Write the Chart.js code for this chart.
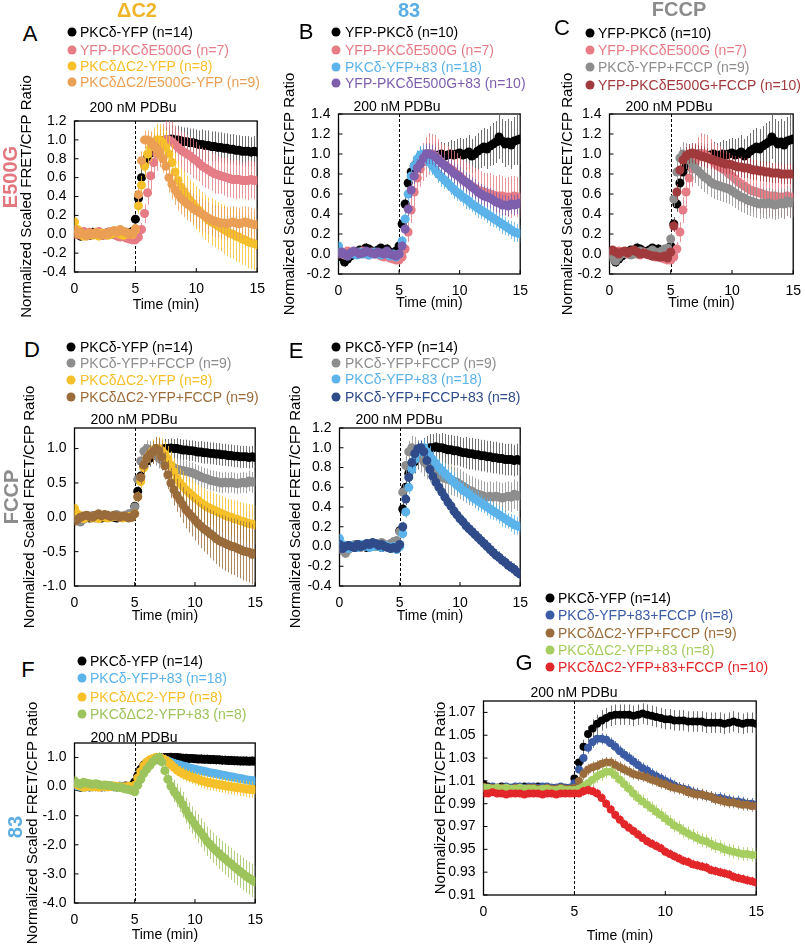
<!DOCTYPE html>
<html>
<head>
<meta charset="utf-8">
<script src="https://cdn.jsdelivr.net/npm/chart.js@4"></script>
<style>
  html, body { margin: 0; padding: 0; background: #fff; }
  #page { position: relative; width: 805px; height: 945px; overflow: hidden; font-family: "Liberation Sans", Arial, sans-serif; }
  canvas { position: absolute; }
  .t { position: absolute; white-space: nowrap; line-height: 1; }
  .dot { position: absolute; width: 9px; height: 9px; border-radius: 50%; transform: translate(-50%, -50%); }
</style>
</head>
<body>
<div id="page"></div>
<script>
// ---------------------
// Data: time (min) and series values
// ---------------------
const time = [0,0.25,0.5,0.75,1,1.25,1.5,1.75,2,2.25,2.5,2.75,3,3.25,3.5,3.75,4,4.25,4.5,4.75,
  5,5.25,5.5,5.75,6,6.25,6.5,6.75,7,7.25,7.5,7.75,8,8.25,8.5,8.75,9,9.25,9.5,9.75,
  10,10.25,10.5,10.75,11,11.25,11.5,11.75,12,12.25,12.5,12.75,13,13.25,13.5,13.75,14,14.25,14.5,14.75,15];
const xTicks = [0, 5, 10, 15];
const stimTime = 5;

// PKCδ-YFP (n=14)
const pkcdYfp = [0.02,0.00,-0.02,0.01,0.00,-0.01,0.02,0.00,0.01,-0.01,0.00,0.02,0.01,0.00,-0.01,0.01,0.00,0.02,0.00,0.03,
  0.16,0.38,0.60,0.74,0.82,0.86,0.90,0.94,0.97,0.99,1.00,1.00,1.01,1.00,1.00,0.99,0.98,0.98,0.97,0.97,
  0.96,0.95,0.95,0.94,0.94,0.93,0.93,0.92,0.92,0.91,0.91,0.90,0.90,0.89,0.89,0.88,0.88,0.88,0.87,0.88,0.87];
const pkcdYfpErr = [0.04,0.03,0.03,0.04,0.03,0.03,0.04,0.03,0.03,0.04,0.03,0.03,0.04,0.03,0.03,0.04,0.03,0.03,0.04,0.04,
  0.05,0.07,0.09,0.10,0.11,0.12,0.12,0.13,0.13,0.13,0.14,0.14,0.14,0.14,0.15,0.15,0.15,0.15,0.15,0.15,
  0.15,0.15,0.16,0.16,0.16,0.16,0.16,0.16,0.16,0.16,0.16,0.16,0.16,0.16,0.16,0.16,0.16,0.16,0.16,0.16,0.16];

// YFP-PKCδE500G (n=7)
const e500g = [0.00,0.02,-0.01,0.03,0.01,0.02,0.00,0.01,0.03,0.00,-0.01,0.02,0.00,0.01,-0.02,-0.03,-0.02,-0.04,-0.05,-0.06,
  -0.06,-0.03,0.05,0.22,0.44,0.62,0.76,0.85,0.92,0.97,1.00,1.00,0.98,0.95,0.92,0.89,0.87,0.85,0.83,0.80,
  0.78,0.75,0.72,0.70,0.68,0.66,0.64,0.63,0.62,0.61,0.60,0.59,0.58,0.58,0.58,0.57,0.57,0.57,0.58,0.57,0.57];
const e500gErr = [0.03,0.04,0.03,0.03,0.04,0.03,0.03,0.04,0.03,0.03,0.04,0.03,0.03,0.04,0.03,0.03,0.04,0.03,0.04,0.04,
  0.04,0.05,0.07,0.10,0.13,0.15,0.17,0.18,0.19,0.20,0.21,0.20,0.21,0.20,0.19,0.20,0.21,0.20,0.20,0.21,
  0.20,0.19,0.20,0.21,0.20,0.20,0.21,0.20,0.19,0.20,0.21,0.20,0.20,0.21,0.20,0.19,0.20,0.21,0.20,0.20,0.21];

// PKCδΔC2-YFP (n=8)
const dc2 = [0.13,0.05,0.02,-0.02,0.00,0.01,-0.01,0.00,-0.02,0.01,0.00,-0.01,0.00,0.02,0.01,0.00,-0.01,0.00,0.01,0.00,
  0.05,0.30,0.52,0.72,0.85,0.92,0.97,1.00,1.00,0.97,0.92,0.85,0.76,0.66,0.57,0.50,0.45,0.40,0.36,0.32,
  0.28,0.25,0.21,0.18,0.15,0.13,0.11,0.09,0.07,0.05,0.03,0.01,0.00,-0.02,-0.03,-0.05,-0.06,-0.08,-0.09,-0.10,-0.11];
const dc2Err = [0.05,0.04,0.04,0.03,0.04,0.04,0.03,0.04,0.04,0.03,0.04,0.04,0.03,0.04,0.04,0.03,0.04,0.04,0.03,0.04,
  0.05,0.08,0.10,0.12,0.14,0.15,0.16,0.17,0.17,0.18,0.18,0.19,0.20,0.20,0.21,0.21,0.22,0.22,0.22,0.23,
  0.23,0.23,0.24,0.24,0.24,0.25,0.25,0.25,0.25,0.26,0.26,0.26,0.26,0.27,0.27,0.27,0.27,0.28,0.28,0.28,0.28];

// PKCδΔC2/E500G-YFP (n=9)
const dc2E500g = [0.05,0.00,0.02,0.00,-0.02,0.01,0.00,0.02,0.00,-0.01,0.01,0.00,0.03,0.04,0.02,0.05,0.03,0.02,0.00,0.01,
  0.06,0.42,0.78,1.00,1.00,0.98,0.94,0.90,0.85,0.80,0.72,0.60,0.53,0.47,0.42,0.38,0.35,0.32,0.30,0.27,
  0.25,0.23,0.21,0.19,0.17,0.15,0.14,0.13,0.12,0.12,0.11,0.12,0.13,0.12,0.11,0.12,0.13,0.12,0.11,0.10,0.10];
const dc2E500gErr = [0.04,0.03,0.04,0.04,0.03,0.04,0.04,0.03,0.04,0.04,0.03,0.04,0.04,0.03,0.04,0.04,0.03,0.04,0.04,0.04,
  0.05,0.08,0.10,0.10,0.10,0.11,0.12,0.13,0.14,0.15,0.15,0.16,0.16,0.16,0.17,0.17,0.17,0.17,0.17,0.17,
  0.17,0.17,0.17,0.17,0.17,0.17,0.17,0.17,0.17,0.17,0.17,0.17,0.17,0.17,0.17,0.17,0.17,0.17,0.17,0.17,0.17];

// YFP-PKCδ (n=10)
const yfpPkcd = [0.02,-0.03,-0.08,-0.05,-0.02,0.00,0.02,0.04,0.03,0.06,0.05,0.03,0.02,0.04,0.06,0.03,0.05,0.02,0.00,0.03,
  0.08,0.30,0.50,0.71,0.82,0.88,0.93,0.97,0.99,1.00,1.00,0.99,0.98,0.99,1.00,0.98,0.99,1.00,0.99,1.00,
  1.01,0.99,1.00,1.02,0.98,1.00,1.03,1.05,1.07,1.05,1.08,1.10,1.12,1.17,1.13,1.10,1.12,1.09,1.13,1.14,1.15];
const yfpPkcdErr = [0.04,0.03,0.05,0.04,0.03,0.04,0.04,0.03,0.04,0.05,0.04,0.03,0.04,0.04,0.03,0.04,0.05,0.04,0.03,0.04,
  0.05,0.07,0.08,0.08,0.09,0.09,0.10,0.10,0.10,0.11,0.11,0.11,0.12,0.12,0.12,0.13,0.13,0.14,0.14,0.15,
  0.15,0.16,0.16,0.17,0.17,0.18,0.18,0.19,0.19,0.20,0.20,0.21,0.21,0.22,0.22,0.23,0.23,0.24,0.24,0.25,0.25];

// PKCδ-YFP+83 (n=18)
const plus83 = [0.08,0.02,0.00,-0.02,0.01,0.00,-0.01,0.02,0.00,0.01,-0.01,0.00,0.02,0.00,-0.01,0.01,0.00,-0.02,0.00,-0.03,
  0.00,0.13,0.35,0.60,0.78,0.88,0.95,0.99,1.00,0.96,0.92,0.88,0.84,0.80,0.77,0.74,0.71,0.68,0.65,0.62,
  0.60,0.57,0.55,0.53,0.50,0.48,0.46,0.44,0.42,0.40,0.38,0.36,0.34,0.32,0.30,0.28,0.26,0.24,0.22,0.21,0.20];
const plus83Err = [0.03,0.03,0.02,0.03,0.03,0.02,0.03,0.03,0.02,0.03,0.03,0.02,0.03,0.03,0.02,0.03,0.03,0.02,0.03,0.03,
  0.04,0.05,0.06,0.07,0.08,0.08,0.09,0.09,0.09,0.09,0.10,0.09,0.08,0.09,0.10,0.09,0.08,0.09,0.10,0.09,
  0.08,0.09,0.10,0.09,0.08,0.09,0.10,0.09,0.08,0.09,0.10,0.09,0.08,0.09,0.10,0.09,0.08,0.09,0.10,0.09,0.09];

// YFP-PKCδE500G+83 (n=10)
const e500g83 = [0.00,0.02,0.00,-0.02,0.01,0.03,0.02,0.00,0.01,0.03,0.02,0.01,0.00,0.02,0.01,0.00,0.03,0.00,-0.01,-0.02,
  0.00,0.08,0.25,0.45,0.64,0.78,0.86,0.90,0.96,1.00,1.00,0.99,0.97,0.94,0.91,0.89,0.86,0.84,0.81,0.79,
  0.77,0.74,0.72,0.70,0.67,0.65,0.62,0.60,0.58,0.57,0.56,0.54,0.52,0.51,0.49,0.49,0.48,0.50,0.49,0.50,0.51];
const e500g83Err = [0.03,0.03,0.02,0.03,0.03,0.02,0.03,0.03,0.02,0.03,0.03,0.02,0.03,0.03,0.02,0.03,0.03,0.02,0.03,0.03,
  0.04,0.05,0.06,0.07,0.08,0.08,0.09,0.09,0.09,0.10,0.10,0.10,0.10,0.10,0.10,0.10,0.10,0.10,0.10,0.10,
  0.10,0.10,0.10,0.10,0.10,0.10,0.10,0.10,0.10,0.10,0.10,0.10,0.10,0.10,0.10,0.10,0.10,0.10,0.10,0.10,0.10];

// PKCδ-YFP+FCCP (n=9)
const fccp = [0.00,-0.04,-0.07,-0.03,0.00,0.02,0.01,-0.01,0.00,0.02,0.03,0.01,0.00,0.02,0.04,0.02,0.00,0.03,0.05,0.06,
  0.15,0.55,0.82,0.96,1.00,0.98,0.94,0.90,0.86,0.83,0.80,0.77,0.75,0.72,0.70,0.69,0.68,0.67,0.66,0.65,
  0.63,0.61,0.59,0.57,0.56,0.54,0.53,0.52,0.51,0.50,0.51,0.50,0.51,0.50,0.49,0.50,0.51,0.50,0.53,0.51,0.52];
const fccpErr = [0.04,0.04,0.03,0.04,0.04,0.03,0.04,0.04,0.03,0.04,0.04,0.03,0.04,0.04,0.03,0.04,0.04,0.03,0.04,0.04,
  0.06,0.08,0.10,0.11,0.12,0.13,0.14,0.15,0.15,0.15,0.15,0.15,0.15,0.15,0.15,0.15,0.15,0.15,0.15,0.15,
  0.15,0.15,0.15,0.15,0.15,0.15,0.15,0.15,0.15,0.15,0.15,0.15,0.15,0.15,0.15,0.15,0.15,0.15,0.15,0.15,0.15];

// YFP-PKCδE500G+FCCP (n=10)
const e500gFccp = [0.03,0.04,0.02,0.00,0.02,0.03,0.01,0.03,0.04,0.02,0.00,0.01,0.00,-0.01,-0.02,-0.02,-0.03,-0.03,-0.02,-0.04,
  0.02,0.28,0.62,0.84,0.94,0.98,1.00,1.01,1.00,0.99,0.98,0.97,0.96,0.95,0.94,0.93,0.92,0.91,0.90,0.90,
  0.89,0.88,0.87,0.87,0.86,0.86,0.85,0.84,0.84,0.83,0.83,0.82,0.82,0.81,0.81,0.81,0.80,0.80,0.80,0.80,0.80];
const e500gFccpErr = [0.03,0.03,0.02,0.03,0.03,0.02,0.03,0.03,0.02,0.03,0.03,0.02,0.03,0.03,0.02,0.03,0.03,0.02,0.03,0.03,
  0.04,0.06,0.08,0.08,0.09,0.09,0.10,0.10,0.10,0.10,0.10,0.10,0.10,0.10,0.10,0.10,0.10,0.10,0.10,0.10,
  0.10,0.10,0.10,0.10,0.10,0.10,0.10,0.10,0.10,0.10,0.10,0.10,0.10,0.10,0.10,0.10,0.10,0.10,0.10,0.10,0.10];

// PKCδΔC2-YFP+FCCP (n=9)
const dc2Fccp = [-0.06,-0.03,0.00,0.02,0.03,0.01,0.00,0.03,0.05,0.02,0.04,0.03,0.01,0.03,0.02,0.00,0.02,0.01,-0.01,0.00,
  0.05,0.30,0.58,0.76,0.86,0.91,0.95,1.00,0.97,0.88,0.75,0.62,0.50,0.40,0.32,0.25,0.18,0.11,0.06,0.01,
  -0.04,-0.09,-0.13,-0.17,-0.20,-0.24,-0.27,-0.31,-0.34,-0.36,-0.38,-0.40,-0.42,-0.43,-0.45,-0.47,-0.49,-0.50,-0.51,-0.54,-0.52];
const dc2FccpErr = [0.05,0.04,0.05,0.05,0.04,0.05,0.05,0.04,0.05,0.05,0.04,0.05,0.05,0.04,0.05,0.05,0.04,0.05,0.05,0.05,
  0.06,0.08,0.10,0.12,0.14,0.15,0.16,0.17,0.18,0.19,0.20,0.21,0.22,0.23,0.24,0.25,0.26,0.27,0.28,0.29,
  0.30,0.31,0.32,0.33,0.34,0.35,0.36,0.37,0.38,0.39,0.40,0.40,0.41,0.41,0.42,0.42,0.43,0.43,0.44,0.44,0.45];

// PKCδ-YFP+FCCP+83 (n=8)
const fccp83 = [0.02,-0.02,0.00,0.01,0.00,-0.01,0.02,0.00,0.01,0.03,0.02,0.04,0.03,0.01,0.02,0.00,-0.01,-0.02,-0.01,-0.02,
  0.02,0.20,0.48,0.70,0.85,0.94,0.99,1.00,0.96,0.87,0.78,0.71,0.65,0.60,0.55,0.50,0.45,0.41,0.36,0.32,
  0.28,0.25,0.21,0.18,0.15,0.12,0.09,0.06,0.03,0.00,-0.03,-0.06,-0.09,-0.11,-0.14,-0.16,-0.19,-0.21,-0.23,-0.26,-0.28];
const fccp83Err = [0.03,0.03,0.02,0.03,0.03,0.02,0.03,0.03,0.02,0.03,0.03,0.02,0.03,0.03,0.02,0.03,0.03,0.02,0.03,0.03,
  0.04,0.05,0.06,0.06,0.06,0.07,0.07,0.07,0.07,0.06,0.06,0.06,0.06,0.06,0.06,0.06,0.06,0.06,0.06,0.06,
  0.06,0.06,0.06,0.06,0.06,0.06,0.06,0.06,0.06,0.06,0.06,0.06,0.06,0.06,0.06,0.06,0.06,0.06,0.06,0.06,0.06];

// PKCδΔC2-YFP+83 (n=8)
const dc2Plus83 = [0.20,0.12,0.08,0.15,0.12,0.10,0.08,0.10,0.07,0.05,0.06,0.04,0.03,0.00,-0.02,-0.03,-0.05,-0.08,-0.10,-0.13,
  -0.18,0.05,0.25,0.45,0.60,0.72,0.85,0.95,1.00,0.85,0.55,0.25,0.02,-0.15,-0.30,-0.45,-0.62,-0.82,-1.00,-1.15,
  -1.30,-1.45,-1.58,-1.72,-1.88,-1.98,-2.10,-2.20,-2.30,-2.40,-2.48,-2.58,-2.65,-2.75,-2.83,-2.92,-3.00,-3.08,-3.15,-3.22,-3.28];
const dc2Plus83Err = [0.05,0.05,0.04,0.05,0.05,0.04,0.05,0.05,0.04,0.05,0.05,0.04,0.05,0.05,0.04,0.05,0.05,0.04,0.05,0.05,
  0.08,0.10,0.12,0.14,0.15,0.16,0.17,0.18,0.18,0.22,0.28,0.32,0.35,0.38,0.40,0.42,0.44,0.45,0.46,0.47,
  0.48,0.49,0.50,0.50,0.51,0.51,0.52,0.52,0.53,0.53,0.54,0.54,0.55,0.55,0.55,0.56,0.56,0.56,0.57,0.57,0.57];

// Panel G: unscaled FRET/CFP ratio
const gYfp = [1.007,1.005,1.004,1.004,1.005,1.004,1.004,1.003,1.004,1.005,1.004,1.004,1.005,1.004,1.003,1.004,1.004,1.003,1.004,1.004,
  1.012,1.026,1.040,1.051,1.056,1.060,1.063,1.065,1.067,1.068,1.068,1.068,1.068,1.067,1.068,1.069,1.068,1.067,1.066,1.065,
  1.064,1.064,1.063,1.063,1.063,1.062,1.062,1.062,1.062,1.061,1.061,1.061,1.061,1.060,1.061,1.062,1.061,1.060,1.061,1.061,1.060];
const gYfpErr = [0.002,0.002,0.002,0.002,0.002,0.002,0.002,0.002,0.002,0.002,0.002,0.002,0.002,0.002,0.002,0.002,0.002,0.002,0.002,0.002,
  0.004,0.005,0.006,0.007,0.008,0.008,0.009,0.009,0.009,0.009,0.009,0.009,0.009,0.009,0.009,0.009,0.009,0.009,0.009,0.009,
  0.009,0.009,0.009,0.009,0.009,0.009,0.009,0.009,0.009,0.009,0.009,0.009,0.009,0.009,0.009,0.009,0.009,0.009,0.009,0.009,0.009];
const g83Fccp = [1.004,1.004,1.005,1.004,1.004,1.005,1.004,1.005,1.005,1.004,1.005,1.005,1.004,1.005,1.005,1.004,1.004,1.005,1.004,1.004,
  1.008,1.020,1.030,1.039,1.044,1.047,1.047,1.046,1.043,1.040,1.036,1.033,1.030,1.027,1.024,1.021,1.019,1.016,1.014,1.012,
  1.010,1.008,1.006,1.004,1.003,1.002,1.000,0.999,0.998,0.997,0.996,0.995,0.995,0.994,0.993,0.992,0.992,0.991,0.990,0.990,0.989];
const g83FccpErr = [0.002,0.002,0.002,0.002,0.002,0.002,0.002,0.002,0.002,0.002,0.002,0.002,0.002,0.002,0.002,0.002,0.002,0.002,0.002,0.002,
  0.003,0.004,0.005,0.005,0.005,0.005,0.005,0.005,0.005,0.005,0.005,0.005,0.005,0.005,0.005,0.005,0.005,0.005,0.005,0.005,
  0.005,0.005,0.005,0.005,0.005,0.005,0.005,0.005,0.005,0.005,0.005,0.005,0.005,0.005,0.005,0.005,0.005,0.005,0.005,0.005,0.005];
const gDc2Fccp = [1.005,1.004,1.004,1.003,1.004,1.004,1.003,1.004,1.004,1.003,1.004,1.004,1.003,1.003,1.004,1.003,1.003,1.004,1.003,1.003,
  1.004,1.010,1.016,1.020,1.022,1.023,1.025,1.026,1.026,1.024,1.022,1.020,1.018,1.016,1.015,1.014,1.013,1.011,1.010,1.008,
  1.007,1.005,1.004,1.003,1.002,1.000,0.999,0.998,0.998,0.997,0.996,0.994,0.993,0.992,0.991,0.991,0.990,0.989,0.989,0.988,0.988];
const gDc2FccpErr = [0.002,0.002,0.002,0.002,0.002,0.002,0.002,0.002,0.002,0.002,0.002,0.002,0.002,0.002,0.002,0.002,0.002,0.002,0.002,0.002,
  0.003,0.004,0.005,0.005,0.005,0.005,0.005,0.005,0.005,0.005,0.005,0.005,0.005,0.005,0.005,0.005,0.005,0.005,0.005,0.005,
  0.005,0.005,0.005,0.005,0.005,0.005,0.005,0.005,0.005,0.005,0.005,0.005,0.005,0.005,0.005,0.005,0.005,0.005,0.005,0.005,0.005];
const gDc2Plus83 = [1.004,1.004,1.003,1.004,1.003,1.004,1.003,1.003,1.004,1.003,1.003,1.003,1.002,1.003,1.003,1.002,1.002,1.003,1.002,1.002,
  1.002,1.003,1.005,1.008,1.011,1.014,1.016,1.018,1.018,1.015,1.011,1.007,1.003,0.999,0.995,0.992,0.989,0.986,0.983,0.980,
  0.977,0.974,0.971,0.969,0.966,0.964,0.962,0.960,0.958,0.957,0.955,0.953,0.952,0.950,0.949,0.948,0.947,0.946,0.946,0.945,0.945];
const gDc2Plus83Err = [0.002,0.002,0.002,0.002,0.002,0.002,0.002,0.002,0.002,0.002,0.002,0.002,0.002,0.002,0.002,0.002,0.002,0.002,0.002,0.002,
  0.003,0.004,0.005,0.005,0.006,0.006,0.006,0.006,0.006,0.006,0.006,0.006,0.006,0.006,0.006,0.006,0.006,0.006,0.006,0.006,
  0.006,0.006,0.006,0.006,0.006,0.006,0.006,0.006,0.006,0.006,0.006,0.006,0.006,0.006,0.006,0.006,0.006,0.006,0.006,0.006,0.006];
const gDc283Fccp = [0.999,0.999,1.000,0.999,0.999,0.998,0.999,0.999,0.999,0.998,0.999,0.999,0.999,0.998,0.999,0.999,0.998,0.999,0.999,0.999,
  0.999,0.999,1.001,1.002,1.001,0.999,0.995,0.990,0.985,0.980,0.976,0.972,0.969,0.966,0.963,0.960,0.957,0.955,0.953,0.951,
  0.948,0.946,0.944,0.942,0.940,0.939,0.937,0.936,0.935,0.934,0.932,0.931,0.930,0.929,0.928,0.926,0.925,0.924,0.923,0.922,0.921];
const gDc283FccpErr = [0.002,0.002,0.002,0.002,0.002,0.002,0.002,0.002,0.002,0.002,0.002,0.002,0.002,0.002,0.002,0.002,0.002,0.002,0.002,0.002,
  0.003,0.003,0.004,0.004,0.004,0.004,0.004,0.004,0.004,0.004,0.004,0.004,0.004,0.004,0.004,0.004,0.004,0.004,0.004,0.004,
  0.004,0.004,0.004,0.004,0.004,0.004,0.004,0.004,0.004,0.004,0.004,0.004,0.004,0.004,0.004,0.004,0.004,0.004,0.004,0.004,0.004];

// tick labels
const yTicksA = [-0.4,-0.2,0,0.2,0.4,0.6,0.8,1.0,1.2];
const yTicksB = [-0.2,0,0.2,0.4,0.6,0.8,1.0,1.2,1.4];
const yTicksD = [-1.0,-0.5,0,0.5,1.0];
const yTicksF = [-4,-3,-2,-1,0,1];
const yTicksG = [0.91,0.93,0.95,0.97,0.99,1.01,1.03,1.05,1.07];

// ---------------------
// Styles
// ---------------------
const FONT = '"Liberation Sans", Arial, sans-serif';
Chart.defaults.font.family = FONT;
Chart.defaults.color = '#000';

const C = {
  black: '#000000', pink: '#e57c86', gold: '#f6c02a', orange: '#eb9f55', lblue: '#5bb3ea',
  purple: '#7d5fae', gray: '#8d8d8d', dred: '#a13a3d', brown: '#9a6b3b', dblue: '#2f4b8a',
  green: '#9dc35c', gblue: '#3b5ba5', ggreen: '#a6cd5f', gred: '#e2262a'
};

const S = {
  pkcdYfp:   { label: 'PKCδ-YFP (n=14)', y: pkcdYfp, err: pkcdYfpErr, color: C.black },
  e500g:     { label: 'YFP-PKCδE500G (n=7)', y: e500g, err: e500gErr, color: C.pink },
  dc2:       { label: 'PKCδΔC2-YFP (n=8)', y: dc2, err: dc2Err, color: C.gold },
  dc2E500g:  { label: 'PKCδΔC2/E500G-YFP (n=9)', y: dc2E500g, err: dc2E500gErr, color: C.orange },
  yfpPkcd:   { label: 'YFP-PKCδ (n=10)', y: yfpPkcd, err: yfpPkcdErr, color: C.black },
  plus83:    { label: 'PKCδ-YFP+83 (n=18)', y: plus83, err: plus83Err, color: C.lblue },
  e500g83:   { label: 'YFP-PKCδE500G+83 (n=10)', y: e500g83, err: e500g83Err, color: C.purple },
  fccp:      { label: 'PKCδ-YFP+FCCP (n=9)', y: fccp, err: fccpErr, color: C.gray },
  e500gFccp: { label: 'YFP-PKCδE500G+FCCP (n=10)', y: e500gFccp, err: e500gFccpErr, color: C.dred },
  dc2Fccp:   { label: 'PKCδΔC2-YFP+FCCP (n=9)', y: dc2Fccp, err: dc2FccpErr, color: C.brown },
  fccp83:    { label: 'PKCδ-YFP+FCCP+83 (n=8)', y: fccp83, err: fccp83Err, color: C.dblue },
  dc2Plus83: { label: 'PKCδΔC2-YFP+83 (n=8)', y: dc2Plus83, err: dc2Plus83Err, color: C.green },
  gYfp:      { label: 'PKCδ-YFP (n=14)', y: gYfp, err: gYfpErr, color: C.black },
  g83Fccp:   { label: 'PKCδ-YFP+83+FCCP (n=8)', y: g83Fccp, err: g83FccpErr, color: C.gblue },
  gDc2Fccp:  { label: 'PKCδΔC2-YFP+FCCP (n=9)', y: gDc2Fccp, err: gDc2FccpErr, color: C.brown },
  gDc2Plus83:{ label: 'PKCδΔC2-YFP+83 (n=8)', y: gDc2Plus83, err: gDc2Plus83Err, color: C.ggreen },
  gDc283Fccp:{ label: 'PKCδΔC2-YFP+83+FCCP (n=10)', y: gDc283Fccp, err: gDc283FccpErr, color: C.gred }
};

// panel layout: box = [left, top, right, bottom] of the plot area on the page
const panels = [
  { letter: 'A', at: [30, 34], box: [74, 121, 259, 272], titleX: 26, xH: 40, yMin: -0.4, yMax: 1.2, yTicks: yTicksA, dec: 1,
    series: [S.pkcdYfp, S.e500g, S.dc2, S.dc2E500g], leg: { dotX: 72, textX: 80, ys: [32, 50, 66, 82] }, pdbu: [133, 107] },
  { letter: 'B', at: [306, 32], box: [338, 114, 522, 274], titleX: 289, xH: 36, yMin: -0.2, yMax: 1.4, yTicks: yTicksB, dec: 1,
    series: [S.yfpPkcd, S.e500g, S.plus83, S.e500g83], leg: { dotX: 336, textX: 345, ys: [32, 50, 67, 83] }, pdbu: [397, 106] },
  { letter: 'C', at: [562, 28], box: [609, 114, 795, 274], titleX: 567, xH: 36, yMin: -0.2, yMax: 1.4, yTicks: yTicksB, dec: 1,
    series: [S.yfpPkcd, S.e500g, S.fccp, S.e500gFccp], leg: { dotX: 590, textX: 598, ys: [33, 50, 67, 85] }, pdbu: [669, 106] },
  { letter: 'D', at: [32, 350], box: [74, 428, 257, 586], titleX: 29, xH: 37, yMin: -1.0, yMax: 1.3, yTicks: yTicksD, dec: 1,
    series: [S.pkcdYfp, S.fccp, S.dc2, S.dc2Fccp], leg: { dotX: 71, textX: 80, ys: [347, 363, 380, 397] }, pdbu: [134, 419] },
  { letter: 'E', at: [296, 351], box: [339, 428, 522, 586], titleX: 295, xH: 37, yMin: -0.4, yMax: 1.2, yTicks: yTicksA, dec: 1,
    series: [S.pkcdYfp, S.fccp, S.plus83, S.fccp83], leg: { dotX: 336, textX: 345, ys: [347, 363, 379, 397] }, pdbu: [399, 419] },
  { letter: 'F', at: [28, 670], box: [74, 743, 257, 903], titleX: 32, xH: 39, yMin: -4, yMax: 1.5, yTicks: yTicksF, dec: 1,
    series: [S.pkcdYfp, S.plus83, S.dc2, S.dc2Plus83], leg: { dotX: 82, textX: 90, ys: [661, 678, 697, 714] }, pdbu: [134, 737] },
  { letter: 'G', at: [524, 663], box: [483, 701, 758, 895], titleX: 440, xH: 48, yMin: 0.91, yMax: 1.08, yTicks: yTicksG, dec: 2,
    yTitle: 'Normalized FRET/CFP Ratio', radius: 4,
    series: [S.gYfp, S.g83Fccp, S.gDc2Fccp, S.gDc2Plus83, S.gDc283Fccp],
    leg: { dotX: 550, textX: 558, ys: [598, 615, 633, 650, 667] }, pdbu: [574, 692] }
];

const page = document.getElementById('page');

function addText(str, x, y, css, rot) {
  const d = document.createElement('div');
  d.className = 't';
  d.textContent = str;
  Object.assign(d.style, css);
  d.style.left = x + 'px';
  d.style.top = y + 'px';
  d.style.transform = 'translate(-50%,-50%)' + (rot ? ' rotate(-90deg)' : '');
  page.appendChild(d);
}

function withAlpha(hex, a) {
  const n = parseInt(hex.slice(1), 16);
  return `rgba(${n >> 16},${(n >> 8) & 255},${n & 255},${a})`;
}

// box, inward ticks, stimulus line and error bars
const framePlugin = {
  id: 'frame',
  beforeDatasetsDraw(chart) {
    const { ctx, chartArea: a, scales: { x, y } } = chart;
    ctx.save();
    ctx.strokeStyle = '#000';
    ctx.lineWidth = 1;
    ctx.setLineDash([3, 2]);
    const sx = Math.round(x.getPixelForValue(stimTime)) + 0.5;
    ctx.beginPath(); ctx.moveTo(sx, a.top); ctx.lineTo(sx, a.bottom); ctx.stroke();
    ctx.setLineDash([]);
    ctx.beginPath();
    y.ticks.forEach(t => {
      const py = y.getPixelForValue(t.value);
      ctx.moveTo(a.left, py); ctx.lineTo(a.left + 4, py);
    });
    x.ticks.forEach(t => {
      const px = x.getPixelForValue(t.value);
      ctx.moveTo(px, a.bottom); ctx.lineTo(px, a.bottom - 4);
    });
    ctx.stroke();
    ctx.lineWidth = 1.3;
    ctx.strokeRect(a.left, a.top, a.right - a.left, a.bottom - a.top);
    ctx.restore();
  },
  beforeDatasetDraw(chart, args) {
    const ds = chart.data.datasets[args.index];
    if (!ds.err) return;
    const { ctx, chartArea: a, scales: { y } } = chart;
    ctx.save();
    ctx.beginPath();
    ctx.rect(a.left, a.top, a.right - a.left, a.bottom - a.top);
    ctx.clip();
    ctx.strokeStyle = ds.errColor;
    ctx.lineWidth = 1;
    ctx.beginPath();
    args.meta.data.forEach((pt, i) => {
      const v = ds.data[i].y, e = ds.err[i];
      const px = Math.round(pt.x) + 0.5;
      ctx.moveTo(px, y.getPixelForValue(v + e));
      ctx.lineTo(px, y.getPixelForValue(v - e));
    });
    ctx.stroke();
    ctx.restore();
  }
};

// ---------------------
// Build panels
// ---------------------
const PAD_TOP = 50, PAD_RIGHT = 14, PAD_BOTTOM = 12;

panels.forEach(p => {
  const [l, t, r, b] = p.box;
  const left = p.titleX - 7.5;
  const canvas = document.createElement('canvas');
  const w = Math.round(r + PAD_RIGHT - left);
  const h = (b - t) + PAD_TOP + p.xH + PAD_BOTTOM;
  canvas.width = w; canvas.height = h;
  canvas.style.left = left + 'px';
  canvas.style.top = (t - PAD_TOP) + 'px';
  canvas.style.width = w + 'px';
  canvas.style.height = h + 'px';
  page.appendChild(canvas);

  const yW = l - left;
  const radius = p.radius || 4.5;

  new Chart(canvas, {
    type: 'scatter',
    data: {
      datasets: p.series.map((s, k) => ({
        label: s.label,
        data: time.map((tt, i) => ({ x: tt, y: s.y[i] })),
        err: s.err,
        errColor: s.color === C.black ? '#707070' : withAlpha(s.color, 0.8),
        backgroundColor: s.color,
        pointRadius: radius,
        pointBorderWidth: 0,
        pointHoverRadius: radius,
        order: -k
      }))
    },
    options: {
      responsive: false,
      animation: false,
      devicePixelRatio: 1,
      layout: { padding: { top: PAD_TOP, right: PAD_RIGHT, left: 0, bottom: PAD_BOTTOM } },
      plugins: { legend: { display: false }, tooltip: { enabled: false } },
      scales: {
        x: {
          type: 'linear', min: 0, max: 15,
          afterBuildTicks: sc => { sc.ticks = xTicks.map(v => ({ value: v })); },
          afterFit: sc => { sc.height = p.xH; },
          grid: { display: false, drawTicks: false },
          border: { display: false },
          ticks: { padding: 9, font: { size: 14 }, maxRotation: 0, autoSkip: false, callback: v => String(v) },
          title: { display: true, text: 'Time (min)', font: { size: 14, lineHeight: 1 }, padding: 0 }
        },
        y: {
          type: 'linear', min: p.yMin, max: p.yMax,
          afterBuildTicks: sc => { sc.ticks = p.yTicks.map(v => ({ value: v })); },
          afterFit: sc => { sc.width = yW; },
          grid: { display: false, drawTicks: false },
          border: { display: false },
          ticks: { padding: 8, font: { size: 14 }, autoSkip: false, callback: v => v.toFixed(p.dec) },
          title: { display: true, text: p.yTitle || 'Normalized Scaled FRET/CFP Ratio', font: { size: 15, lineHeight: 1 }, padding: 0 }
        }
      }
    },
    plugins: [framePlugin]
  });

  // panel letter
  addText(p.letter, p.at[0], p.at[1], { fontSize: '22px', color: '#000' });
  // stimulus label
  addText('200 nM PDBu', p.pdbu[0], p.pdbu[1], { fontSize: '14px', color: '#000' });
  // legend
  p.series.forEach((s, i) => {
    const d = document.createElement('div');
    d.className = 'dot';
    d.style.left = p.leg.dotX + 'px';
    d.style.top = p.leg.ys[i] + 'px';
    d.style.background = s.color;
    page.appendChild(d);
    const tx = document.createElement('div');
    tx.className = 't';
    tx.textContent = s.label;
    tx.style.left = p.leg.textX + 'px';
    tx.style.top = p.leg.ys[i] + 'px';
    tx.style.transform = 'translateY(-50%)';
    tx.style.fontSize = '14px';
    tx.style.color = s.color;
    page.appendChild(tx);
  });
});

// column and row headers
const bold = c => ({ fontSize: '20px', fontWeight: 'bold', color: c });
addText('ΔC2', 137, 10, bold('#f0b429'));
addText('83', 409, 10, bold('#5aaee3'));
addText('FCCP', 679, 9, bold('#8c8c8c'));
addText('E500G', 10, 177, bold('#e27780'), true);
addText('FCCP', 11, 497, bold('#8c8c8c'), true);
addText('83', 15, 827, bold('#5aaee3'), true);
</script>
</body>
</html>
